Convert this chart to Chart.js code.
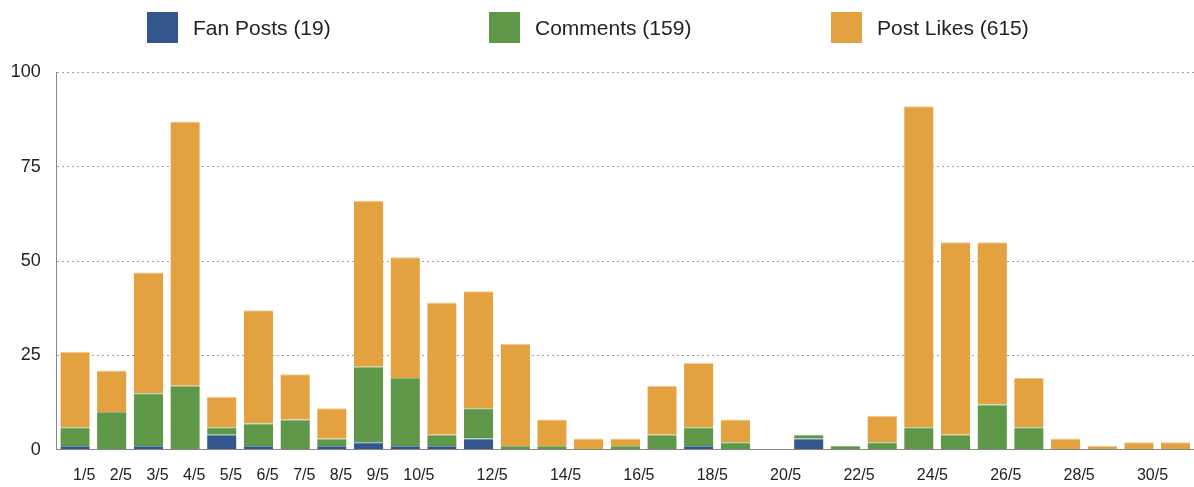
<!DOCTYPE html>
<html>
<head>
<meta charset="utf-8">
<script src="https://cdn.jsdelivr.net/npm/chart.js@4"></script>
<style>
html, body { margin: 0; padding: 0; background: #ffffff; }
#wrap { position: relative; width: 1194px; height: 487px; }
canvas { position: absolute; left: 0; top: 0; }
#legend { position: absolute; left: 0; top: 0; width: 1194px; height: 60px;
  font-family: 'Liberation Sans', Arial, sans-serif; font-size: 21px; color: #222; }
.item { position: absolute; top: 12px; height: 31px; display: flex; align-items: center; white-space: nowrap; }
.box { width: 31px; height: 31px; margin-right: 15px; flex: none; }
</style>
</head>
<body>
<div id="wrap">
  <canvas id="chart" width="1194" height="487"></canvas>
  <div id="legend"></div>
</div>
<script>
const categories = ['1/5','2/5','3/5','4/5','5/5','6/5','7/5','8/5','9/5','10/5',
  '11/5','12/5','13/5','14/5','15/5','16/5','17/5','18/5','19/5','20/5',
  '21/5','22/5','23/5','24/5','25/5','26/5','27/5','28/5','29/5','30/5','31/5'];
const fanPosts  = [1,0,1,0,4,1,0,1,2,1, 1,3,0,0,0,0,0,1,0,0, 3,0,0,0,0,0,0,0,0,0,0];
const comments  = [5,10,14,17,2,6,8,2,20,18, 3,8,1,1,0,1,4,5,2,0, 1,1,2,6,4,12,6,0,0,0,0];
const postLikes = [20,11,32,70,8,30,12,8,44,32, 35,31,27,7,3,2,13,17,6,0, 0,0,7,85,51,43,13,3,1,2,2];
const shownTicks = ['1/5','2/5','3/5','4/5','5/5','6/5','7/5','8/5','9/5','10/5',
  '12/5','14/5','16/5','18/5','20/5','22/5','24/5','26/5','28/5','30/5'];
const seriesNames = ['Fan Posts', 'Comments', 'Post Likes'];
const seriesColors = ['#33578c', '#5f9748', '#e3a140'];
const seriesBorders = ['#6f8bb3', '#8db879', '#f2c98a'];
const yMin = 0, yMax = 100, yStep = 25;

const seriesData = [fanPosts, comments, postLikes];
const FONT = "'Liberation Sans', Arial, sans-serif";

const datasets = seriesNames.map((name, i) => ({
  label: name,
  data: seriesData[i],
  backgroundColor: seriesColors[i],
  borderColor: seriesBorders[i],
  borderWidth: { top: 1, left: 0, right: 0, bottom: 0 },
  borderSkipped: 'start',
  barPercentage: 0.8,
  categoryPercentage: 1.0
}));

const chart = new Chart(document.getElementById('chart'), {
  type: 'bar',
  data: { labels: categories, datasets: datasets },
  options: {
    responsive: false,
    devicePixelRatio: 1,
    animation: false,
    layout: { padding: { top: 72.3, left: 10.7, right: 0, bottom: 3 } },
    plugins: { legend: { display: false }, tooltip: { enabled: false }, title: { display: false } },
    scales: {
      x: {
        stacked: true,
        grid: { display: false, drawTicks: false },
        border: { display: true, color: '#888888', width: 1 },
        afterFit: (scale) => { scale.height = 34.2; },
        ticks: {
          autoSkip: false,
          maxRotation: 0,
          minRotation: 0,
          align: 'start',
          labelOffset: -2,
          padding: 16.5,
          color: '#222222',
          font: { family: FONT, size: 16 },
          callback: function (value) {
            const lab = this.getLabelForValue(value);
            return shownTicks.includes(lab) ? lab : '';
          }
        }
      },
      y: {
        stacked: true,
        min: yMin,
        max: yMax,
        afterFit: (scale) => { scale.width = 46; },
        ticks: {
          stepSize: yStep,
          padding: 16,
          color: '#222222',
          font: { family: FONT, size: 18 }
        },
        grid: {
          drawTicks: false,
          lineWidth: 1,
          color: (ctx) => (ctx.tick && ctx.tick.value === 0) ? 'rgba(0,0,0,0)' : '#a0a0a0'
        },
        border: { display: true, color: '#888888', width: 1, dash: [2, 3] }
      }
    }
  }
});

// Legend built from the datasets
const legend = document.getElementById('legend');
const legendLefts = [147, 489, 831];
chart.data.datasets.forEach((ds, i) => {
  const total = ds.data.reduce((a, b) => a + b, 0);
  const item = document.createElement('div');
  item.className = 'item';
  item.style.left = legendLefts[i] + 'px';
  const box = document.createElement('div');
  box.className = 'box';
  box.style.background = ds.backgroundColor;
  const txt = document.createElement('span');
  txt.textContent = ds.label + ' (' + total + ')';
  item.appendChild(box);
  item.appendChild(txt);
  legend.appendChild(item);
});
</script>
</body>
</html>
